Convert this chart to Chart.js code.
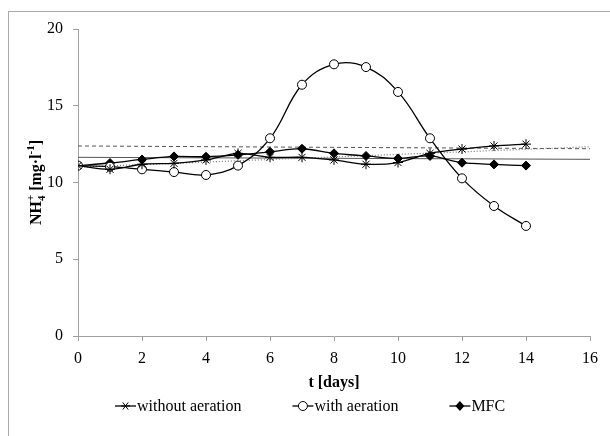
<!DOCTYPE html>
<html>
<head>
<meta charset="utf-8">
<script src="https://cdn.jsdelivr.net/npm/chart.js@4/dist/chart.umd.min.js"></script>
<style>
  html, body { margin: 0; padding: 0; background: #fff; }
  #wrap { position: relative; width: 610px; height: 436px; overflow: hidden; }
  #frame { position: absolute; left: 8px; top: 11px; width: 700px; height: 500px; border: 1px solid #aaa; }
  #c { position: absolute; left: 0; top: 0; }
</style>
</head>
<body>
<div id="wrap">
  <div id="frame"></div>
  <canvas id="c" width="610" height="436"></canvas>
</div>
<script>
  // values
  var days = [0, 1, 2, 3, 4, 5, 6, 7, 8, 9, 10, 11, 12, 13, 14];
  var withoutAeration = [11.1, 10.86, 11.19, 11.25, 11.47, 11.9, 11.64, 11.64, 11.47, 11.19, 11.3, 11.9, 12.18, 12.38, 12.5];
  var withAeration = [11.1, 11.03, 10.86, 10.68, 10.49, 11.1, 12.88, 16.37, 17.7, 17.52, 15.9, 12.88, 10.27, 8.47, 7.17];
  var mfc = [11.1, 11.27, 11.5, 11.7, 11.68, 11.8, 12.0, 12.2, 11.9, 11.73, 11.57, 11.73, 11.29, 11.18, 11.1];

  // linear trend lines (drawn across the whole axis)
  var trendX = [0, 16];
  var trendWithout = [11.0, 12.33];
  var trendWith = [12.38, 12.2];
  var trendMfc = [11.64, 11.51];

  var seriesNames = ["without aeration", "with aeration", "MFC"];
  var xTicks = [0, 2, 4, 6, 8, 10, 12, 14, 16];
  var yTicks = [0, 5, 10, 15, 20];

  var SERIF = "'Liberation Serif', 'Times New Roman', serif";

  function pts(xs, ys) {
    return xs.map(function (x, i) { return { x: x, y: ys[i] }; });
  }

  function marker(ctx, kind, x, y) {
    ctx.save();
    ctx.strokeStyle = "#000";
    ctx.lineWidth = 1;
    if (kind === "star") {
      var r = 4.5;
      ctx.beginPath();
      ctx.moveTo(x - r, y); ctx.lineTo(x + r, y);
      ctx.moveTo(x - r * 0.6, y - r * 0.8); ctx.lineTo(x + r * 0.6, y + r * 0.8);
      ctx.moveTo(x + r * 0.6, y - r * 0.8); ctx.lineTo(x - r * 0.6, y + r * 0.8);
      ctx.stroke();
    } else if (kind === "circle") {
      ctx.fillStyle = "#fff";
      ctx.beginPath(); ctx.arc(x, y, 4.5, 0, Math.PI * 2); ctx.fill(); ctx.stroke();
    } else {
      ctx.fillStyle = "#000";
      ctx.beginPath();
      ctx.moveTo(x, y - 5); ctx.lineTo(x + 4.5, y); ctx.lineTo(x, y + 5); ctx.lineTo(x - 4.5, y);
      ctx.closePath(); ctx.fill();
    }
    ctx.restore();
  }

  var legendKinds = ["star", "circle", "diamond"];

  var lineLegend = {
    id: "lineLegend",
    afterDraw: function (chart) {
      var ctx = chart.ctx;
      var x = 115, y = 406;
      ctx.save();
      ctx.font = "16px " + SERIF;
      ctx.fillStyle = "#000";
      ctx.textBaseline = "middle";
      seriesNames.forEach(function (name, i) {
        ctx.strokeStyle = "#000";
        ctx.lineWidth = 1.3;
        ctx.beginPath(); ctx.moveTo(x, y); ctx.lineTo(x + 21, y); ctx.stroke();
        marker(ctx, legendKinds[i], x + 10.5, y);
        ctx.fillText(name, x + 22, y + 1);
        x += 22 + ctx.measureText(name).width + 51;
      });
      ctx.restore();
    }
  };

  // y title with real sub/superscripts: NH4+ [mg·l-1]
  var yTitle = {
    id: "yTitle",
    afterDraw: function (chart) {
      var ctx = chart.ctx, a = chart.chartArea;
      var big = "bold 16px " + SERIF, small = "bold 11px " + SERIF;
      ctx.save();
      ctx.fillStyle = "#000";
      ctx.textBaseline = "alphabetic";
      ctx.font = big;
      var w1 = ctx.measureText("NH").width, w3 = ctx.measureText(" [mg\u00B7l").width, w5 = ctx.measureText("]").width;
      ctx.font = small;
      var w2 = Math.max(ctx.measureText("4").width, ctx.measureText("+").width), w4 = ctx.measureText("-1").width;
      var total = w1 + w2 + w3 + w4 + w5;
      ctx.translate(41, (a.top + a.bottom) / 2);
      ctx.rotate(-Math.PI / 2);
      var x = -total / 2;
      ctx.font = big; ctx.fillText("NH", x, 0); x += w1;
      ctx.font = small; ctx.fillText("4", x, 4); ctx.fillText("+", x, -7); x += w2;
      ctx.font = big; ctx.fillText(" [mg\u00B7l", x, 0); x += w3;
      ctx.font = small; ctx.fillText("-1", x, -7); x += w4;
      ctx.font = big; ctx.fillText("]", x, 0);
      ctx.restore();
    }
  };

  function series(label, ys, style, extra) {
    var d = {
      label: label, data: pts(days, ys),
      borderColor: "#000", borderWidth: 1.3,
      pointStyle: style, pointRadius: 4.5, pointBorderWidth: 1,
      pointBorderColor: "#000", pointBackgroundColor: "#000",
      tension: 0.3, order: 1
    };
    for (var k in extra) d[k] = extra[k];
    return d;
  }

  function trend(ys, color, dash, width) {
    return {
      label: "trend", data: pts(trendX, ys), borderColor: color, borderWidth: width,
      borderDash: dash, pointRadius: 0, tension: 0, order: 5
    };
  }

  new Chart(document.getElementById("c"), {
    type: "line",
    data: {
      datasets: [
        series(seriesNames[0], withoutAeration, "star", { pointRadius: 5 }),
        series(seriesNames[1], withAeration, "circle", { pointBackgroundColor: "#fff", tension: 0.4 }),
        series(seriesNames[2], mfc, "rectRot", { pointRadius: 4.5 }),
        trend(trendWithout, "#777", [1, 2], 1.2),
        trend(trendWith, "#555", [4, 3], 1),
        trend(trendMfc, "#555", [], 1)
      ]
    },
    options: {
      responsive: false,
      animation: false,
      events: [],
      layout: { padding: { top: 29, right: 20, bottom: 44, left: 0 } },
      plugins: { legend: { display: false }, tooltip: { enabled: false } },
      scales: {
        x: {
          type: "linear", min: 0, max: 16,
          afterBuildTicks: function (s) { s.ticks = xTicks.map(function (v) { return { value: v }; }); },
          afterFit: function (s) { s.height = 56; },
          grid: { display: true, drawOnChartArea: false, drawTicks: true, tickLength: 5, color: "#a0a0a0" },
          border: { color: "#a0a0a0", width: 1 },
          ticks: { color: "#000", padding: 8, maxRotation: 0, font: { family: SERIF, size: 16 } },
          title: { display: true, text: "t [days]", color: "#000", padding: { top: 0, bottom: 0 },
                   font: { family: SERIF, size: 16, weight: "bold" } }
        },
        y: {
          min: 0, max: 20,
          afterBuildTicks: function (s) { s.ticks = yTicks.map(function (v) { return { value: v }; }); },
          afterFit: function (s) { s.width = 78; },
          grid: { display: true, drawOnChartArea: false, drawTicks: true, tickLength: 5, color: "#a0a0a0" },
          border: { color: "#a0a0a0", width: 1 },
          ticks: { color: "#000", padding: 10, font: { family: SERIF, size: 16 } },
          title: { display: false }
        }
      }
    },
    plugins: [lineLegend, yTitle]
  });
</script>
</body>
</html>
